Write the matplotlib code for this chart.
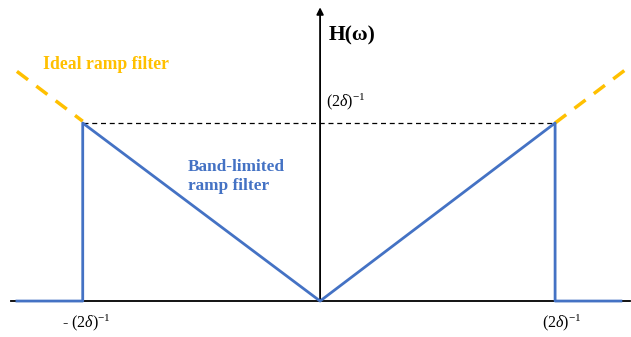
import matplotlib
matplotlib.use("Agg")
import matplotlib.pyplot as plt
import numpy as np

plt.rcParams['font.family'] = ['Liberation Serif', 'DejaVu Serif']
plt.rcParams['mathtext.fontset'] = 'custom'
plt.rcParams['mathtext.rm'] = 'Liberation Serif'
plt.rcParams['mathtext.it'] = 'Liberation Serif:italic'

# frequency in units of the cutoff (2*delta)^-1
cutoff = 1.0
band_w = [-1.29, -1.01, -1.01, 0.0, 1.0, 1.0, 1.28]
band_h = [0.0, 0.0, 1.0, 0.0, 1.0, 0.0, 0.0]
ideal_left_w = [-1.29, -1.01]
ideal_right_w = [1.0, 1.30]

blue = '#4472C4'
gold = '#FFC000'

fig = plt.figure(figsize=(6.31, 3.37), dpi=100)
ax = fig.add_axes([0, 0, 1, 1])
ax.set_xlim(-1.362, 1.323)
ax.set_ylim(-0.202, 1.691)
ax.axis('off')

# axes
ax.plot([-1.315, 1.32], [0, 0], color='black', lw=1.3, zorder=1)
ax.annotate('', xy=(0, 1.65), xytext=(0, 0),
            arrowprops=dict(arrowstyle='-|>', color='black', lw=1.3,
                            mutation_scale=10, shrinkA=0, shrinkB=0))

# cutoff level
ax.plot([-1.01, cutoff], [1, 1], color='black', lw=0.9, ls=(0, (4, 3)), zorder=1)

# ideal ramp |w|
ax.plot(ideal_left_w, np.abs(ideal_left_w), color=gold, lw=2.5, ls=(0, (4, 3)))
ax.plot(ideal_right_w, np.abs(ideal_right_w), color=gold, lw=2.5, ls=(0, (4, 3)))

# band-limited ramp
ax.plot(band_w, band_h, color=blue, lw=2.0, zorder=3)

ax.text(-1.18, 1.33, 'Ideal ramp filter', color=gold, fontsize=12.7,
        fontweight='bold', ha='left', va='center')
ax.text(-0.562, 0.70, 'Band-limited\nramp filter', color=blue, fontsize=12.4,
        fontweight='bold', ha='left', va='center', linespacing=1.25)
ax.text(0.038, 1.49, r'H(ω)', color='black', fontsize=15.5,
        fontweight='bold', ha='left', va='center')

lab = r'(2$\delta$)$^{\mathregular{-1}}$'
ax.text(0.025, 1.12, lab, fontsize=11.5, ha='left', va='center')
ax.text(-0.995, -0.12, '- ' + lab, fontsize=11.5, ha='center', va='center')
ax.text(1.03, -0.12, lab, fontsize=11.5, ha='center', va='center')

fig.savefig('out.png', dpi=100)
